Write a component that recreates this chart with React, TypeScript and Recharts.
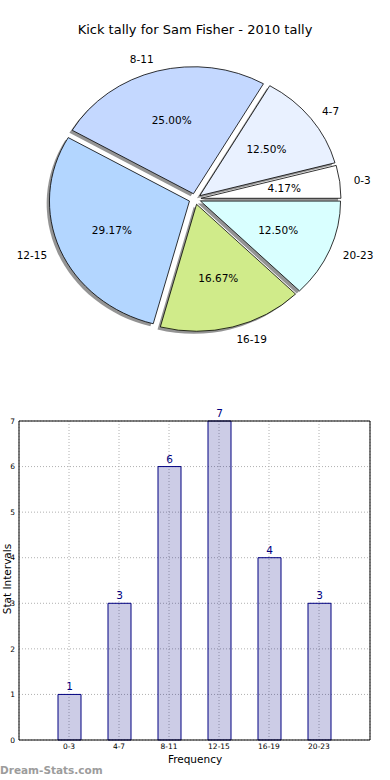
import React from 'react'
import { PieChart, Pie, Cell, Sector, BarChart, Bar, XAxis, YAxis, CartesianGrid, LabelList } from 'recharts'

const categories = ['0-3', '4-7', '8-11', '12-15', '16-19', '20-23']
const kicks = [1, 3, 6, 7, 4, 3]
const sliceColors = ['#ffffff', '#e9f1ff', '#c4d8ff', '#b3d6ff', '#d0eb8a', '#d9ffff']
const yTicks = [0, 1, 2, 3, 4, 5, 6, 7]

const pieData = categories.map((name, i) => ({ name, value: kicks[i] }))
const barData = categories.map((name, i) => ({ name, value: kicks[i] }))

const FONT = '"DejaVu Sans", sans-serif'
const RADIUS = 140
const SQUASH = 127 / 140 // pie is drawn as an ellipse, like the original
const EXPLODE = 6
const RAD = Math.PI / 180

function ExplodedSlice(props: any) {
  const { cx, cy, startAngle, endAngle, innerRadius, outerRadius, fill } = props
  const mid = ((startAngle + endAngle) / 2) * RAD
  const dx = EXPLODE * Math.cos(mid)
  const dy = -EXPLODE * Math.sin(mid)
  const squash = `translate(0 ${cy}) scale(1 ${SQUASH}) translate(0 ${-cy})`
  return (
    <g transform={squash}>
      {/* drop shadow, shifted left and down */}
      <Sector
        cx={cx + dx - 2.8}
        cy={cy + dy + 2.8}
        innerRadius={innerRadius}
        outerRadius={outerRadius}
        startAngle={startAngle}
        endAngle={endAngle}
        fill="#2a2a2a"
        fillOpacity={0.5}
        stroke="none"
      />
      <Sector
        cx={cx + dx}
        cy={cy + dy}
        innerRadius={innerRadius}
        outerRadius={outerRadius}
        startAngle={startAngle}
        endAngle={endAngle}
        fill={fill}
        stroke="#000"
        strokeWidth={0.8}
        vectorEffect="non-scaling-stroke"
      />
    </g>
  )
}

function renderSliceLabels(props: any) {
  const { cx, cy, startAngle, endAngle, percent, name } = props
  const m = ((startAngle + endAngle) / 2) * RAD
  const c = Math.cos(m)
  const s = Math.sin(m)
  const pr = EXPLODE + 0.6 * RADIUS
  const nr = EXPLODE + 1.1 * RADIUS
  return (
    <g>
      <text
        x={cx + pr * c}
        y={cy - pr * s * SQUASH}
        textAnchor="middle"
        dominantBaseline="central"
        fontFamily={FONT}
        fontSize={10.5}
        fill="#000"
      >
        {(percent * 100).toFixed(2)}%
      </text>
      <text
        x={cx + nr * c}
        y={cy - nr * s * SQUASH}
        textAnchor={c >= 0 ? 'start' : 'end'}
        dominantBaseline="central"
        fontFamily={FONT}
        fontSize={10.5}
        fill="#000"
      >
        {name}
      </text>
    </g>
  )
}

export default function App() {
  return (
    <div style={{ position: 'absolute', left: 0, top: 0, width: 390, height: 780, background: '#fff', fontFamily: FONT }}>
      <div style={{ position: 'absolute', left: 0, top: 21, width: 390, textAlign: 'center', fontSize: 13, lineHeight: '18px', color: '#000' }}>
        Kick tally for Sam Fisher - 2010 tally
      </div>

      <div style={{ position: 'absolute', left: 0, top: 0 }}>
        <PieChart width={390} height={380} margin={{ top: 0, right: 0, bottom: 0, left: 0 }}>
          <Pie
            data={pieData}
            dataKey="value"
            nameKey="name"
            cx={195}
            cy={199}
            outerRadius={RADIUS}
            startAngle={0}
            endAngle={360}
            shape={ExplodedSlice}
            activeShape={ExplodedSlice}
            label={renderSliceLabels}
            labelLine={false}
            isAnimationActive={false}
          >
            {pieData.map((d, i) => (
              <Cell key={d.name} fill={sliceColors[i]} />
            ))}
          </Pie>
        </PieChart>
      </div>

      <div style={{ position: 'absolute', left: 0, top: 400 }}>
        <BarChart width={390} height={380} data={barData} margin={{ top: 20, right: 19, bottom: 20, left: 0 }}>
          <CartesianGrid stroke="#b0b0b0" strokeDasharray="1 2" />
          <XAxis
            dataKey="name"
            padding={{ left: 25, right: 26 }}
            height={20}
            tickSize={0}
            tickMargin={4}
            axisLine={{ stroke: '#000' }}
            tick={{ fontSize: 7.5, fill: '#000', fontFamily: FONT }}
          />
          {/* top and right spines close the frame */}
          <XAxis
            xAxisId="top"
            orientation="top"
            dataKey="name"
            padding={{ left: 25, right: 26 }}
            height={1}
            tick={false}
            tickLine={false}
            axisLine={{ stroke: '#000' }}
          />
          <YAxis
            width={19}
            domain={[0, 7]}
            ticks={yTicks}
            tickSize={0}
            tickMargin={4}
            axisLine={{ stroke: '#000' }}
            tick={{ fontSize: 7.5, fill: '#000', fontFamily: FONT }}
          />
          <YAxis
            yAxisId="right"
            orientation="right"
            width={1}
            domain={[0, 7]}
            tick={false}
            tickLine={false}
            axisLine={{ stroke: '#000' }}
          />
          <Bar
            dataKey="value"
            fill="#000080"
            fillOpacity={0.2}
            stroke="#000080"
            strokeWidth={1}
            barSize={23}
            isAnimationActive={false}
          >
            <LabelList dataKey="value" position="top" offset={4} fill="#000080" fontSize={10.5} fontFamily={FONT} />
          </Bar>
        </BarChart>
      </div>

      <div style={{ position: 'absolute', left: -29, top: 572, width: 72, textAlign: 'center', transform: 'rotate(-90deg)', fontSize: 10.5, lineHeight: '14px', color: '#000', whiteSpace: 'nowrap' }}>
        Stat Intervals
      </div>
      <div style={{ position: 'absolute', left: 0, top: 752, width: 390, textAlign: 'center', fontSize: 10.5, lineHeight: '14px', color: '#000' }}>
        Frequency
      </div>
      <div style={{ position: 'absolute', left: 0, top: 763, fontSize: 10.5, fontWeight: 'bold', lineHeight: '14px', color: '#9c9c9c' }}>
        Dream-Stats.com
      </div>
    </div>
  )
}
